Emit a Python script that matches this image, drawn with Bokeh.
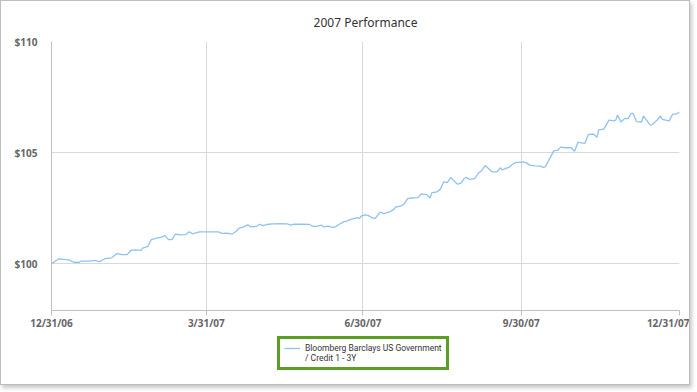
import pandas as pd
from bokeh.plotting import figure
from bokeh.layouts import column
from bokeh.models import Range1d, FixedTicker, NumeralTickFormatter, Legend, LegendItem
from bokeh.embed import file_html
from bokeh.resources import INLINE

title_text = "2007 Performance"
series_name_lines = ["Bloomberg Barclays US Government", "/ Credit 1 - 3Y"]
start_date = "2006-12-31"
end_date = "2007-12-31"
# days since 12/31/06 and index value ($)
day_offset = [0, 4, 10, 13, 16, 17, 22, 25, 28, 31, 35, 38, 41, 44, 46, 49, 52, 53, 56, 58,
              61, 64, 66, 68, 70, 72, 75, 78, 80, 82, 86, 89, 97, 99, 102, 105, 107, 109, 111, 114,
              116, 119, 121, 123, 126, 129, 133, 137, 139, 141, 145, 150, 152, 154, 157, 158, 161, 163, 165, 167,
              170, 172, 174, 176, 178, 179, 180, 182, 184, 186, 188, 189, 191, 193, 195, 197, 199, 200, 203, 205,
              207, 209, 213, 215, 218, 220, 221, 224, 226, 228, 230, 232, 234, 236, 238, 240, 241, 243, 246, 248,
              250, 252, 254, 256, 259, 261, 262, 264, 266, 268, 270, 272, 274, 276, 278, 281, 284, 286, 287, 290,
              292, 294, 296, 299, 302, 304, 306, 308, 310, 312, 315, 317, 318, 321, 324, 327, 328, 329, 331, 333,
              335, 337, 338, 340, 343, 344, 348, 349, 352, 354, 355, 359, 361, 363, 365]
value = [100.00, 100.22, 100.18, 100.07, 100.06, 100.12, 100.12, 100.15, 100.10, 100.23, 100.27, 100.46, 100.41, 100.41, 100.60, 100.63, 100.60, 100.71, 100.78, 101.09,
         101.16, 101.20, 101.27, 101.09, 101.09, 101.34, 101.30, 101.31, 101.44, 101.35, 101.44, 101.44, 101.44, 101.37, 101.38, 101.34, 101.44, 101.60, 101.64, 101.75,
         101.66, 101.68, 101.78, 101.72, 101.78, 101.80, 101.81, 101.80, 101.74, 101.78, 101.78, 101.77, 101.68, 101.68, 101.74, 101.66, 101.69, 101.64, 101.66, 101.77,
         101.90, 101.93, 102.00, 102.04, 102.08, 102.04, 102.15, 102.20, 102.18, 102.08, 102.04, 102.12, 102.33, 102.26, 102.30, 102.35, 102.45, 102.55, 102.60, 102.70,
         102.93, 102.96, 102.98, 103.15, 103.11, 102.96, 103.19, 103.24, 103.36, 103.69, 103.65, 103.88, 103.73, 103.58, 103.63, 103.85, 103.89, 103.80, 103.83, 104.07,
         104.19, 104.42, 104.29, 104.14, 104.14, 104.32, 104.22, 104.29, 104.34, 104.48, 104.56, 104.56, 104.58, 104.54, 104.44, 104.41, 104.39, 104.34, 104.36, 104.80,
         105.09, 105.10, 105.25, 105.22, 105.22, 105.06, 105.47, 105.44, 105.42, 105.81, 105.84, 105.69, 106.02, 106.06, 106.46, 106.43, 106.47, 106.69, 106.38, 106.53,
         106.53, 106.77, 106.77, 106.40, 106.38, 106.65, 106.24, 106.25, 106.47, 106.65, 106.50, 106.43, 106.73, 106.73, 106.83]
x_tick_dates = ["2006-12-31", "2007-03-31", "2007-06-30", "2007-09-30", "2007-12-31"]
x_tick_labels = ["12/31/06", "3/31/07", "6/30/07", "9/30/07", "12/31/07"]
y_ticks = [100, 105, 110]
y_min, y_max = 97.9, 110.0

dates = pd.Timestamp(start_date) + pd.to_timedelta(day_offset, unit="D")
tick_ms = [pd.Timestamp(d).value // 10**6 for d in x_tick_dates]

FONT = "Noto Sans"
LINE_COLOR = "#8fc2f0"

# ---- main chart ----
p = figure(width=688, height=331, x_axis_type="datetime",
           x_range=Range1d(pd.Timestamp(start_date), pd.Timestamp(end_date)),
           y_range=Range1d(y_min, y_max),
           output_backend="svg", toolbar_location=None,
           min_border_left=50, min_border_right=10, min_border_top=39, min_border_bottom=18)
p.outline_line_color = None
p.title.text = title_text
p.title.align = "center"
p.title.text_font = FONT
p.title.text_font_size = "12px"
p.title.text_font_style = "normal"
p.title.text_color = "#333333"
p.title.standoff = 21

r = p.line(dates, value, line_color=LINE_COLOR, line_width=1.3)

xa = p.xaxis[0]
xa.ticker = FixedTicker(ticks=tick_ms)
xa.major_label_overrides = {t: l for t, l in zip(tick_ms, x_tick_labels)}
xa.axis_line_color = "#bfbfbf"
xa.major_tick_line_color = "#bfbfbf"
xa.major_tick_out = 5
xa.major_tick_in = 0
xa.minor_tick_line_color = None
xa.major_label_text_font = FONT
xa.major_label_text_font_size = "10px"
xa.major_label_text_font_style = "bold"
xa.major_label_text_color = "#666666"
xa.major_label_standoff = 0

ya = p.yaxis[0]
ya.ticker = FixedTicker(ticks=y_ticks)
ya.formatter = NumeralTickFormatter(format="$0")
ya.axis_line_color = "#bfbfbf"
ya.major_tick_line_color = None
ya.minor_tick_line_color = None
ya.major_label_text_font = FONT
ya.major_label_text_font_size = "10px"
ya.major_label_text_font_style = "bold"
ya.major_label_text_color = "#666666"
ya.major_label_standoff = 8

p.xgrid.ticker = FixedTicker(ticks=tick_ms)
p.xgrid.grid_line_color = "#d9d9d9"
p.ygrid.grid_line_color = "#d9d9d9"

# ---- legend strip (legend drawn inside its own frame) ----
q = figure(width=688, height=52, x_range=Range1d(0, 1), y_range=Range1d(0, 1),
           x_axis_location=None, y_axis_location=None,
           output_backend="svg", toolbar_location=None,
           min_border_left=0, min_border_right=0, min_border_top=0, min_border_bottom=0)
q.outline_line_color = None
q.xgrid.visible = False
q.ygrid.visible = False
# legend proxies: same series, outside the strip's visible range
r1 = q.line(dates, value, line_color=LINE_COLOR, line_width=1.3)
r2 = q.line(dates, value, line_alpha=0)

legend = Legend(items=[LegendItem(label=series_name_lines[0], renderers=[r1]),
                       LegendItem(label=series_name_lines[1], renderers=[r2])],
                location=(226, 14), orientation="vertical",
                label_text_font="Roboto", label_text_font_size="8.5px", label_text_color="#333333",
                label_text_baseline="top",
                label_height=10, glyph_height=10, glyph_width=16, spacing=0,
                border_line_color="#5a9e23", border_line_width=3, border_line_alpha=1.0,
                padding=4, margin=0, label_standoff=5)
q.add_layout(legend, "center")

layout = column(p, q, spacing=0)
layout.styles = {"border": "1px solid #bdbdbd", "box-shadow": "2px 3px 4px rgba(0,0,0,0.22)"}

open("out.html", "w").write(file_html(layout, INLINE))
